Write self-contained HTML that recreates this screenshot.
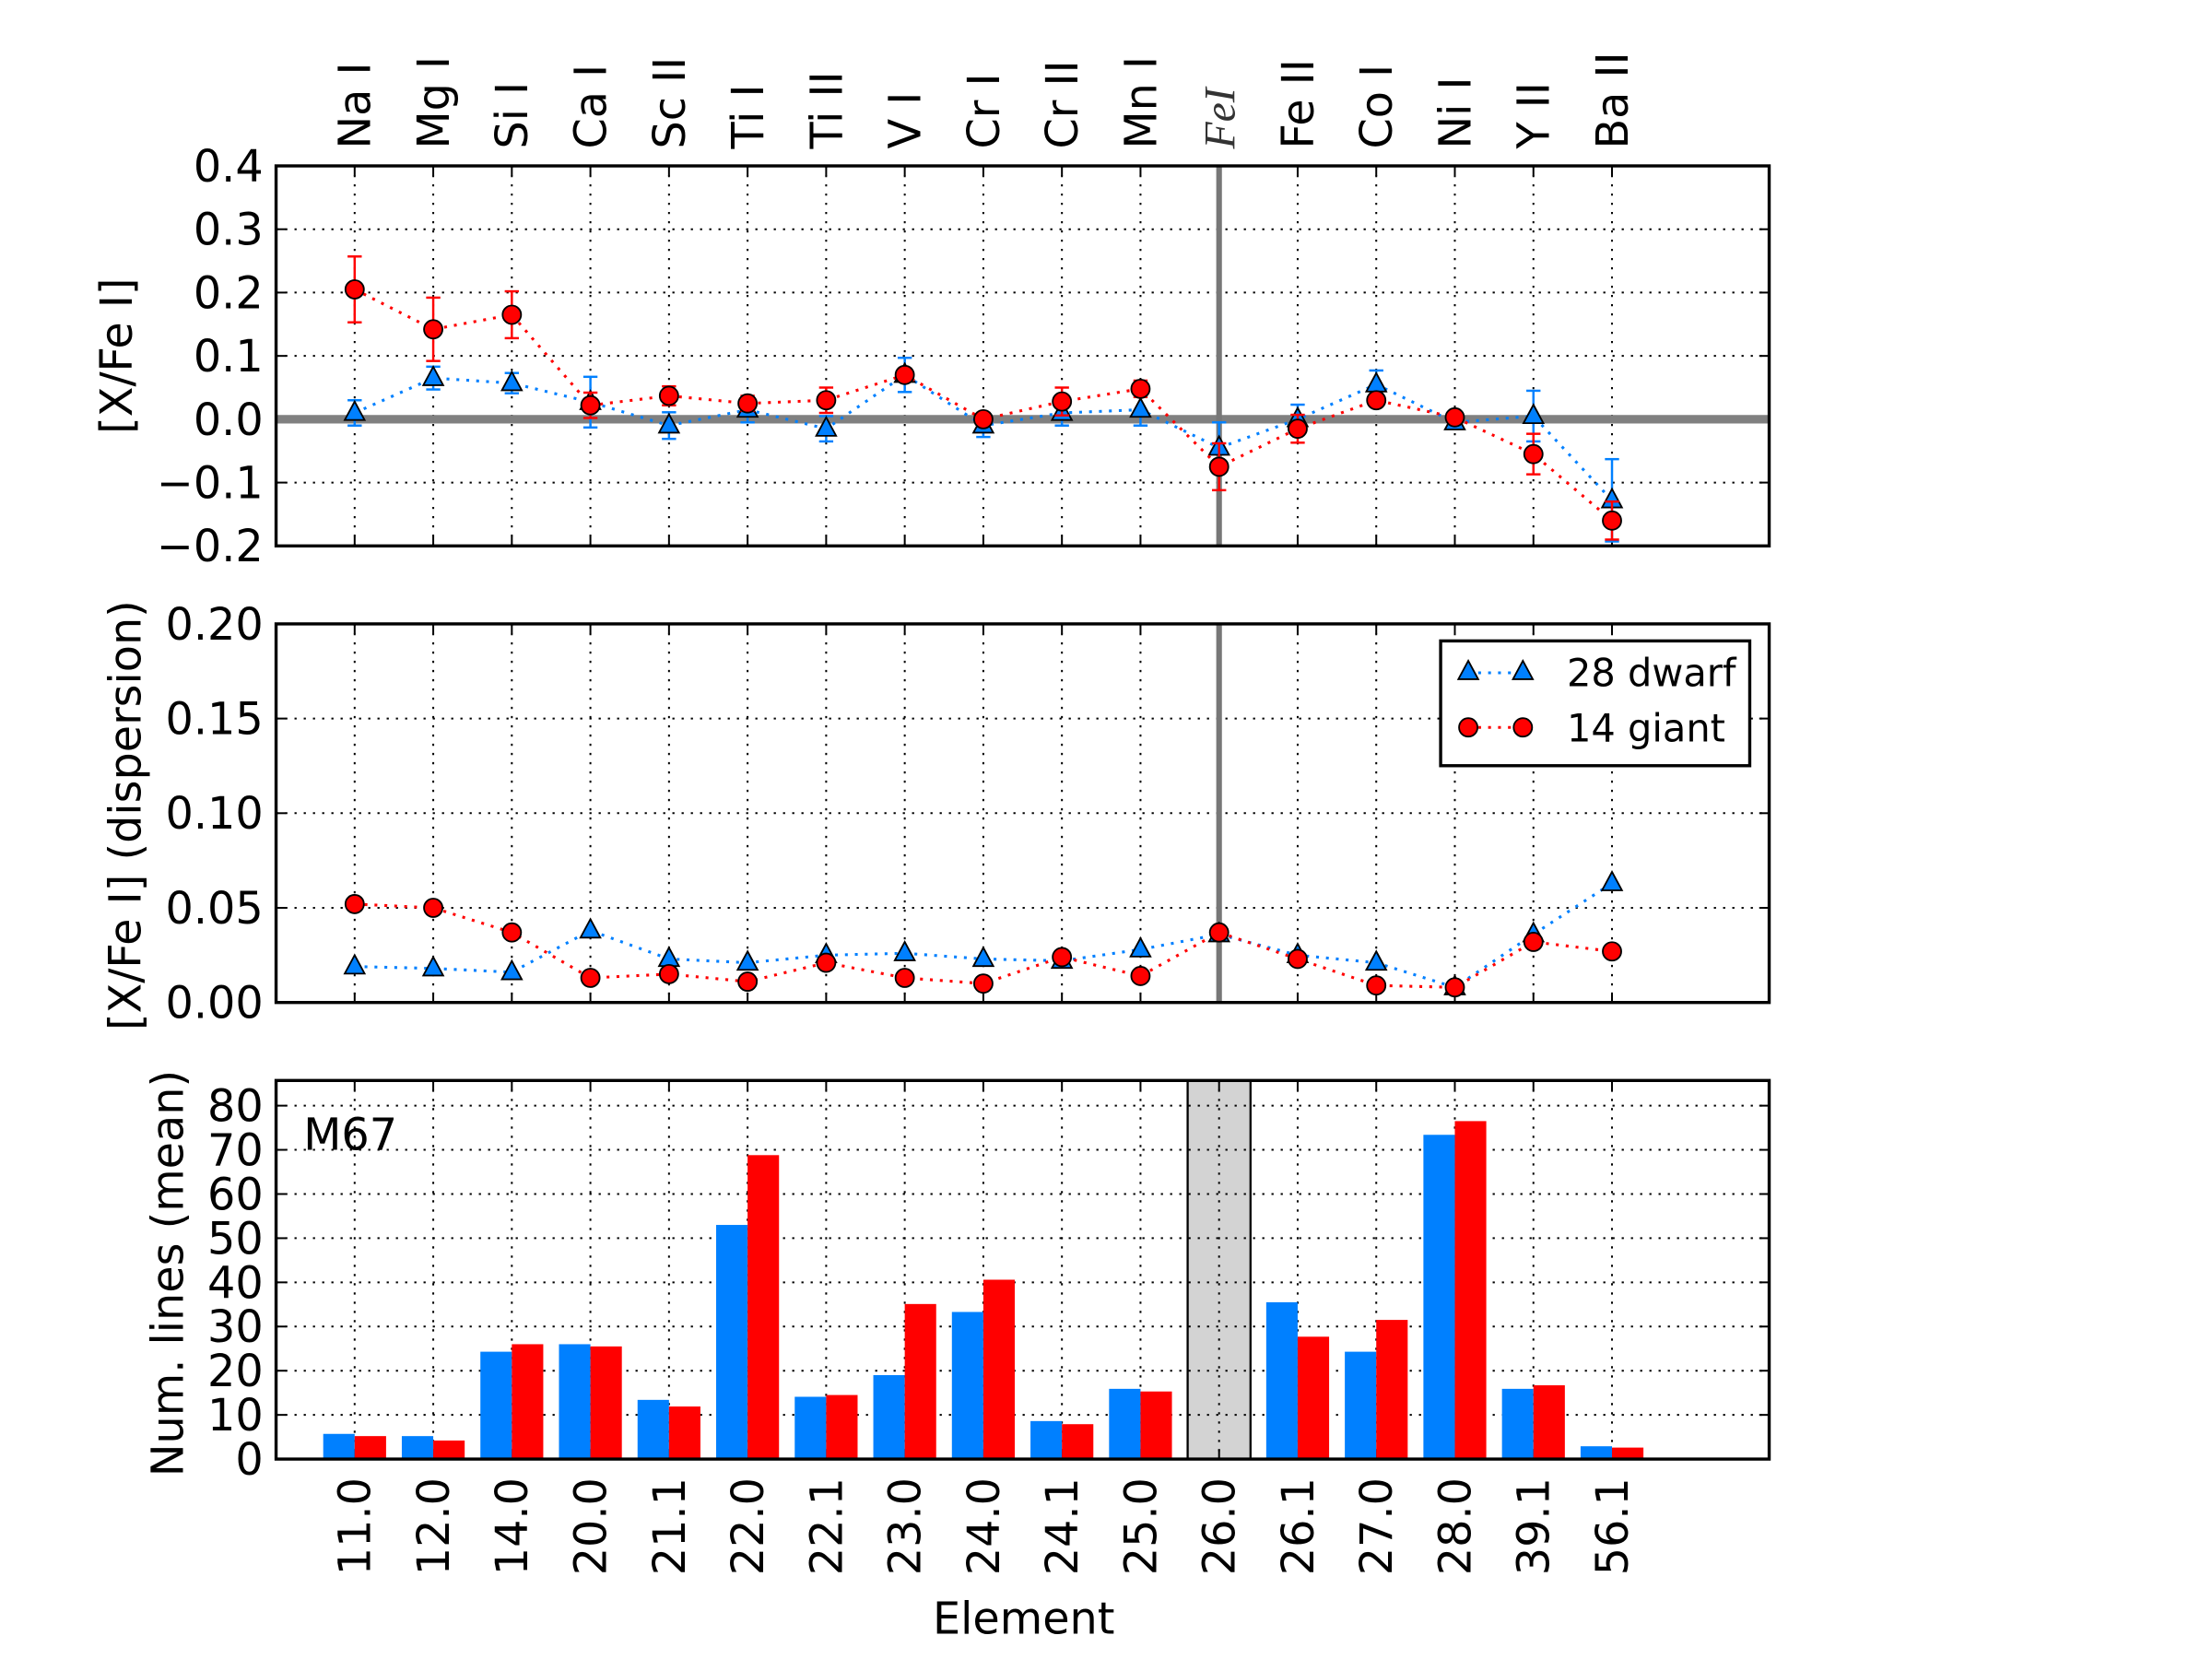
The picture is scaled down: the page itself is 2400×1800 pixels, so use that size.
<!DOCTYPE html>
<html><head><meta charset="utf-8"><style>
html,body{margin:0;padding:0;background:#fff;}
svg{display:block;font-family:"DejaVu Sans","Liberation Sans",sans-serif;}
</style></head><body>
<svg id="c" width="2400" height="1800" viewBox="0 0 1560 1170" xmlns="http://www.w3.org/2000/svg"></svg>
<script>
const categories=["11.0","12.0","14.0","20.0","21.1","22.0","22.1","23.0","24.0","24.1","25.0","26.0","26.1","27.0","28.0","39.1","56.1"];
const elementNames=["Na I","Mg I","Si I","Ca I","Sc II","Ti I","Ti II","V I","Cr I","Cr II","Mn I","FeI","Fe II","Co I","Ni I","Y II","Ba II"];
const dwarfXFe=[0.01,0.065,0.057,0.027,-0.01,0.015,-0.015,0.07,-0.01,0.01,0.015,-0.045,0.0,0.055,-0.005,0.005,-0.128];
const dwarfXFeErr=[0.02,0.018,0.016,0.04,0.021,0.02,0.02,0.027,0.018,0.02,0.025,0.04,0.023,0.022,0.01,0.04,0.065];
const giantXFe=[0.205,0.142,0.165,0.022,0.037,0.025,0.03,0.07,0.0,0.028,0.048,-0.075,-0.015,0.03,0.003,-0.055,-0.16];
const giantXFeErr=[0.052,0.05,0.037,0.02,0.015,0.012,0.02,0.01,0.01,0.022,0.013,0.037,0.022,0.01,0.005,0.032,0.03];
const dwarfDisp=[0.019,0.018,0.016,0.038,0.023,0.021,0.025,0.026,0.023,0.022,0.028,0.036,0.025,0.021,0.008,0.036,0.063];
const giantDisp=[0.052,0.050,0.037,0.013,0.015,0.011,0.021,0.013,0.010,0.024,0.014,0.037,0.023,0.009,0.008,0.032,0.027];
const dwarfLines=[5.7,5.2,24.3,26.0,13.4,53.0,14.1,19.0,33.3,8.6,15.9,0,35.5,24.3,73.4,15.9,2.9];
const giantLines=[5.2,4.2,26.0,25.5,11.9,68.8,14.5,35.1,40.6,7.9,15.3,0,27.7,31.5,76.5,16.7,2.6];
const ticks1=[-0.2,-0.1,0.0,0.1,0.2,0.3,0.4];
const tickLabels1=["\u22120.2","\u22120.1","0.0","0.1","0.2","0.3","0.4"];
const ticks2=[0,0.05,0.10,0.15,0.20];
const tickLabels2=["0.00","0.05","0.10","0.15","0.20"];
const ticks3=[0,10,20,30,40,50,60,70,80];

const NS="http://www.w3.org/2000/svg";
const svg=document.getElementById('c');
function mk(tag,attrs,parent,text){const e=document.createElementNS(NS,tag);for(const k in attrs)e.setAttribute(k,attrs[k]);if(text!==undefined)e.textContent=text;(parent||svg).appendChild(e);return e;}
const X0=194.7,X1=1247.7,BLUE="#0080ff",RED="#ff0000";
function xs(i){return X0+(i+1)*(X1-X0)/19;}
const P1={top:117,bot:385,min:-0.2,max:0.4};
const P2={top:440,bot:707,min:0,max:0.2};
const P3={top:762,bot:1029,min:0,max:85.7};
function ys(p,v){return p.bot-(v-p.min)/(p.max-p.min)*(p.bot-p.top);}
const FS=31;

function frame(p,yt,yl,name){
  const g=mk('g',{},svg);
  
  
  for(let i=0;i<categories.length;i++){
    const x=xs(i);
    mk('line',{x1:x,x2:x,y1:p.top,y2:p.bot,stroke:'#000','stroke-width':1.3,'stroke-dasharray':'1.5 5'},g);
    mk('line',{x1:x,x2:x,y1:p.bot,y2:p.bot-7,stroke:'#000','stroke-width':1.3},g);
    mk('line',{x1:x,x2:x,y1:p.top,y2:p.top+7,stroke:'#000','stroke-width':1.3},g);
  }
  yt.forEach((v,k)=>{
    const y=ys(p,v);
    mk('line',{x1:X0,x2:X1,y1:y,y2:y,stroke:'#000','stroke-width':1.3,'stroke-dasharray':'1.5 5'},g);
    mk('line',{x1:X0,x2:X0+7,y1:y,y2:y,stroke:'#000','stroke-width':1.3},g);
    mk('line',{x1:X1,x2:X1-7,y1:y,y2:y,stroke:'#000','stroke-width':1.3},g);
    const t=mk('text',{x:X0-9,y:y+11,'text-anchor':'end','font-size':FS},svg,yl[k]);
    
    
  });
}
function border(p,name){
  const r=mk('rect',{x:X0,y:p.top,width:X1-X0,height:p.bot-p.top,fill:'none',stroke:'#000','stroke-width':2.2});
  
  
}
function series(p,vals,errs,color,shape,name){
  const g=mk('g',{},svg);
  
  
  mk('polyline',{points:vals.map((v,i)=>xs(i)+','+ys(p,v)).join(' '),fill:'none',stroke:color,'stroke-width':2,'stroke-dasharray':'2 5'},g);
  if(errs){vals.forEach((v,i)=>{const x=xs(i),a=ys(p,v+errs[i]),b=ys(p,v-errs[i]);
    mk('line',{x1:x,x2:x,y1:a,y2:b,stroke:color,'stroke-width':1.6},g);
    mk('line',{x1:x-5,x2:x+5,y1:a,y2:a,stroke:color,'stroke-width':1.6},g);
    mk('line',{x1:x-5,x2:x+5,y1:b,y2:b,stroke:color,'stroke-width':1.6},g);});}
  vals.forEach((v,i)=>{const x=xs(i),y=ys(p,v);let m;
    if(shape==='tri')m=mk('polygon',{points:`${x},${y-8} ${x-7},${y+5} ${x+7},${y+5}`,fill:color,stroke:'#000','stroke-width':1.2},g);
    else m=mk('circle',{cx:x,cy:y,r:6.5,fill:color,stroke:'#000','stroke-width':1.2},g);
    
    });
}
function vline(p,name){
  const x=xs(11);
  const l=mk('line',{x1:x,x2:x,y1:p.top,y2:p.bot,stroke:'#777','stroke-width':4});
  
  
}

// Panel 1
frame(P1,ticks1,tickLabels1,'abundance');
const h0=mk('rect',{x:X0,y:ys(P1,0)-3,width:X1-X0,height:6,fill:'#808080'});


vline(P1,'fe-i-reference-line-top');
series(P1,dwarfXFe,dwarfXFeErr,BLUE,'tri','dwarf-abundance-series');
series(P1,giantXFe,giantXFeErr,RED,'circ','giant-abundance-series');
border(P1,'abundance');
elementNames.forEach((n,i)=>{
  const x=xs(i)+11,y=105;
  const t=mk('text',{x:x,y:y,'font-size':FS,transform:`rotate(-90 ${x} ${y})`},svg,n);
  if(n==='FeI'){t.setAttribute('font-family','"Liberation Serif",serif');t.setAttribute('font-style','italic');t.setAttribute('fill','#333');}
  
  
});
let yl=mk('text',{x:93,y:251,'font-size':FS,'text-anchor':'middle',transform:'rotate(-90 93 251)'},svg,'[X/Fe I]');



// Panel 2
frame(P2,ticks2,tickLabels2,'dispersion');
vline(P2,'fe-i-reference-line-middle');
series(P2,dwarfDisp,null,BLUE,'tri','dwarf-dispersion-series');
series(P2,giantDisp,null,RED,'circ','giant-dispersion-series');
border(P2,'dispersion');
yl=mk('text',{x:99,y:575,'font-size':FS,'text-anchor':'middle',transform:'rotate(-90 99 575)'},svg,'[X/Fe I] (dispersion)');


// legend
const lg=mk('g',{},svg);


mk('rect',{x:1016,y:452,width:218,height:88,fill:'#fff',stroke:'#000','stroke-width':2.2},lg);
const le1=mk('g',{},lg);


mk('line',{x1:1035.5,x2:1074,y1:474.5,y2:474.5,stroke:BLUE,'stroke-width':2,'stroke-dasharray':'2 5'},le1);
[1035.5,1074].forEach(x=>mk('polygon',{points:`${x},${466} ${x-7},${479} ${x+7},${479}`,fill:BLUE,stroke:'#000','stroke-width':1.2},le1));
mk('text',{x:1105,y:484,'font-size':27},le1,'28 dwarf');
const le2=mk('g',{},lg);


mk('line',{x1:1035.5,x2:1074,y1:513,y2:513,stroke:RED,'stroke-width':2,'stroke-dasharray':'2 5'},le2);
[1035.5,1074].forEach(x=>mk('circle',{cx:x,cy:513,r:6.5,fill:RED,stroke:'#000','stroke-width':1.2},le2));
mk('text',{x:1105,y:523,'font-size':27},le2,'14 giant');

// Panel 3
const bw=(X1-X0)/19*0.4;
const shade=mk('rect',{x:xs(11)-bw,y:P3.top,width:2*bw,height:P3.bot-P3.top,fill:'#d3d3d3',stroke:'#000','stroke-width':1.5});


frame(P3,ticks3,ticks3.map(String),'lines');
dwarfLines.forEach((v,i)=>{const y=ys(P3,v);
  const b=mk('rect',{x:xs(i)-bw,y:y,width:bw,height:P3.bot-y,fill:BLUE});
  
  });
giantLines.forEach((v,i)=>{const y=ys(P3,v);
  const b=mk('rect',{x:xs(i),y:y,width:bw,height:P3.bot-y,fill:RED});
  
  });
border(P3,'lines');
let m67=mk('text',{x:214,y:811,'font-size':FS},svg,'M67');


categories.forEach((c,i)=>{
  const x=xs(i)+11,y=1042;
  const t=mk('text',{x:x,y:y,'font-size':FS,'text-anchor':'end',transform:`rotate(-90 ${x} ${y})`},svg,c);
  
  
});
yl=mk('text',{x:129,y:898,'font-size':FS,'text-anchor':'middle',transform:'rotate(-90 129 898)'},svg,'Num. lines (mean)');


let xt=mk('text',{x:722,y:1152,'font-size':FS,'text-anchor':'middle'},svg,'Element');


</script>
</body></html>
